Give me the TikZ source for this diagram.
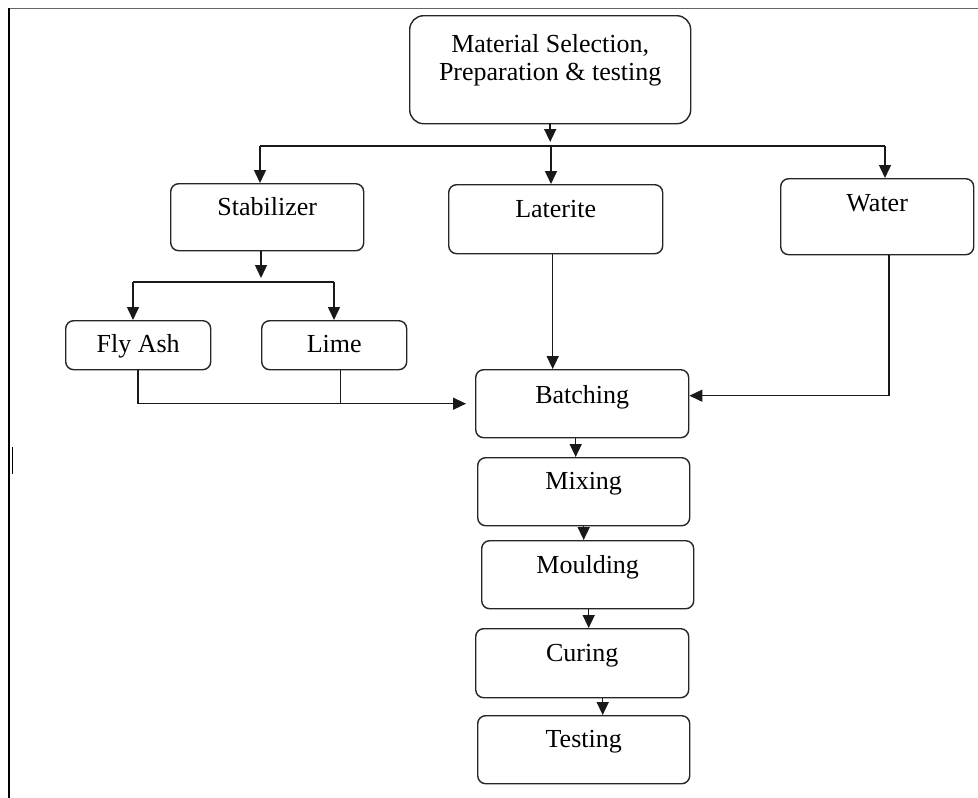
\documentclass[tikz,border=0pt]{standalone}
\usepackage{fontspec}
\setmainfont{Liberation Serif}
\usetikzlibrary{arrows.meta,calc}
\begin{document}
\begin{tikzpicture}[x=1pt,y=-1pt,
  box/.style={draw=black!85, line width=1.4pt, rounded corners=8pt, inner xsep=0pt, inner ysep=0pt,
    anchor=north west, font=\fontsize{26}{28}\selectfont},
  arr/.style={draw=black!90, line width=1.5pt, -{Triangle[width=12pt,length=13pt]}},
  ln/.style={draw=black!90, line width=1.5pt}]
\useasboundingbox (0,0) rectangle (978,798);
\fill[white] (0,0) rectangle (978,798);
% frame
\draw[black!60, line width=1pt] (9,8) -- (978,8);
\draw[black, line width=2pt] (9,8) -- (9,798);
\draw[black, line width=1.5pt] (12.5,447) -- (12.5,474);
% boxes
\node[box, rounded corners=14pt, minimum width=281pt, text height=37pt, text depth=71pt] (mat) at (409,15)
  {\begin{tabular}[t]{@{}c@{}}Material Selection,\\Preparation \& testing\end{tabular}};
\node[box, minimum width=193pt, text height=32pt, text depth=35pt] (stab) at (170,183) {Stabilizer};
\node[box, minimum width=214pt, text height=33pt, text depth=36pt] (lat) at (448,184) {Laterite};
\node[box, minimum width=193pt, text height=33pt, text depth=43pt] (wat) at (780,178) {Water};
\node[box, minimum width=145pt, text height=32pt, text depth=17pt] (fly) at (65,320) {Fly Ash};
\node[box, minimum width=145pt, text height=32pt, text depth=17pt] (lime) at (261,320) {Lime};
\node[box, minimum width=213pt, text height=34pt, text depth=34pt] (batch) at (475,369) {Batching};
\node[box, minimum width=212pt, text height=32pt, text depth=36pt] (mix) at (477,457) {Mixing};
\node[box, minimum width=212pt, text height=33pt, text depth=35pt] (mould) at (481,540) {Moulding};
\node[box, minimum width=213pt, text height=33pt, text depth=36pt] (cur) at (475,628) {Curing};
\node[box, minimum width=212pt, text height=32pt, text depth=36pt] (test) at (477,715) {Testing};
% top bus
\coordinate (busL) at (260,146);
\coordinate (busM) at (551,146);
\coordinate (busR) at (885,146);
\draw[arr, shorten >=4pt] (mat.south) -- (mat.south |- busM);
\draw[ln] (busL) -- (busR);
\draw[arr] (busL) -- (busL |- stab.north);
\draw[arr] (busM) -- (busM |- lat.north);
\draw[arr] (busR) -- (busR |- wat.north);
% stabilizer bus
\coordinate (sbL) at (133,282);
\coordinate (sbM) at (261,282);
\coordinate (sbR) at (334,282);
\draw[arr, shorten >=4pt] (stab.south -| sbM) -- (sbM);
\draw[ln] (sbL) -- (sbR);
\draw[arr] (sbL) -- (sbL |- fly.north);
\draw[arr] (sbR) -- (sbR |- lime.north);
% into batching
\draw[arr, shorten >=9pt] (fly.south) |- (batch.west);
\draw[ln] ([xshift=6.5pt]lime.south) -- ++(0,34);
\draw[arr] ([xshift=-3pt]lat.south) -- ([xshift=-3pt]lat.south |- batch.north);
\draw[arr] ([xshift=12pt]wat.south) |- ([yshift=8pt]batch.east);
% chain
\draw[arr] ([xshift=-6.5pt]batch.south) -- ([xshift=-8pt]mix.north);
\draw[arr] (mix.south) -- ([xshift=-4pt]mould.north);
\draw[arr] ([xshift=1pt]mould.south) -- ([xshift=6.5pt]cur.north);
\draw[arr] ([xshift=20.5pt]cur.south) -- ([xshift=19pt]test.north);
\end{tikzpicture}
\end{document}
